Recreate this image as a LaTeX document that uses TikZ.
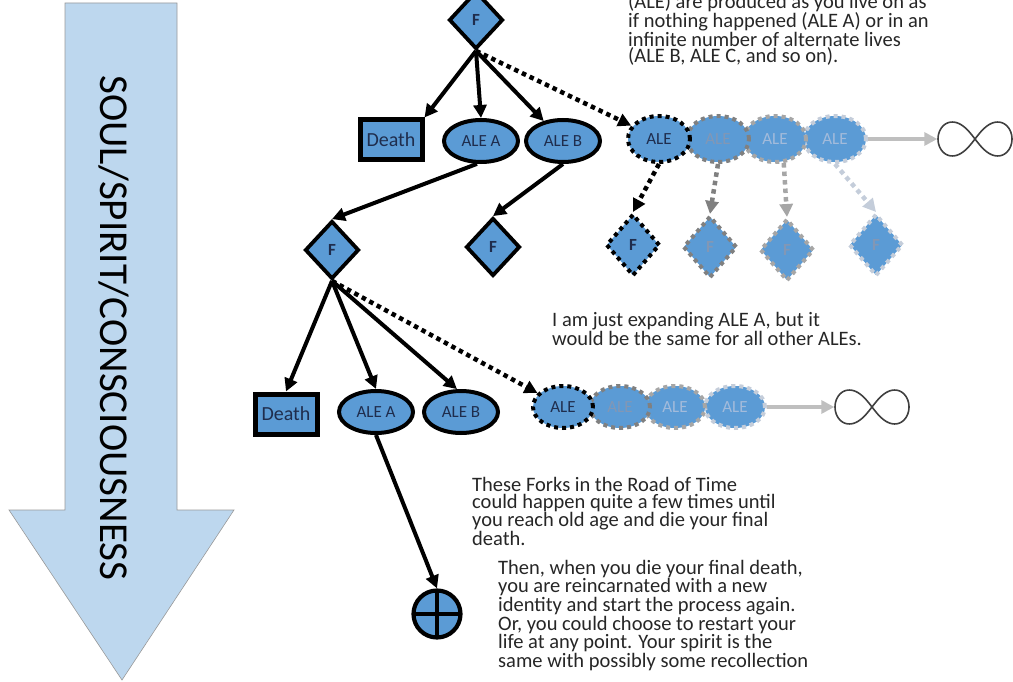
\documentclass[tikz,border=0pt]{standalone}
\usepackage{fontspec}
\setmainfont{Carlito}
\usetikzlibrary{shapes.geometric,arrows.meta}
\definecolor{nblue}{HTML}{5B9BD5}
\definecolor{lblue}{HTML}{BDD7EE}
\definecolor{navy}{HTML}{1F2D4D}
\definecolor{txt}{HTML}{262626}
\definecolor{ga}{HTML}{808080}
\definecolor{gb}{HTML}{A6A6A6}
\definecolor{gc}{HTML}{C4CDDA}
\definecolor{fta}{HTML}{8297B5}
\definecolor{ftb}{HTML}{A3BBDB}
\definecolor{inf}{HTML}{404040}
\definecolor{garrow}{HTML}{BFBFBF}
\begin{document}
\begin{tikzpicture}[x=1pt,y=-1pt,
  fork/.style={diamond, draw=black, line width=3.8pt, fill=nblue, minimum width=54pt, minimum height=58pt, inner sep=0pt, font=\bfseries\fontsize{17}{17}\selectfont, text=navy},
  dfork/.style={fork, dash pattern=on 4pt off 4pt, line width=4pt, minimum height=62pt},
  deathbox/.style={rectangle, draw=black, line width=5pt, fill=nblue, minimum width=62pt, minimum height=40pt, inner sep=0pt, font=\fontsize{20}{20}\selectfont, text=navy},
  ale/.style={ellipse, draw=black, line width=4pt, fill=nblue, minimum width=74pt, minimum height=42pt, inner sep=0pt, font=\fontsize{17}{17}\selectfont, text=navy},
  cale/.style={ellipse, draw=black, line width=4pt, dash pattern=on 4pt off 4pt, fill=nblue, minimum width=62pt, minimum height=46pt, inner sep=0pt, font=\fontsize{17}{17}\selectfont, text=navy},
  conn/.style={line width=4pt, -{Triangle[length=13pt,width=13pt]}},
  dconn/.style={conn, line width=4.5pt, dash pattern=on 4.5pt off 4pt},
  gconn/.style={line width=4pt, draw=garrow, -{Triangle[length=13pt,width=13pt]}},
  body/.style={align=left, inner sep=0pt, anchor=north west, font=\fontsize{20.5}{16.7}\selectfont, text=txt},
  infbox/.style={minimum width=75pt, minimum height=36pt, inner sep=0pt}
]
\useasboundingbox (0,0) rectangle (1013,682);

% big arrow
\draw[draw=gray!80, line width=0.6pt, fill=lblue] (65,3) -- (177,3) -- (177,510) -- (234,510) -- (122,680) -- (9,510) -- (65,510) -- cycle;
\node[rotate=-90, inner sep=0pt] (soul) at (114,328) {\resizebox{505pt}{!}{\fontsize{40}{40}\selectfont SOUL/SPIRIT/CONSCIOUSNESS}};

% top fork
\node[fork] (F1) at (476,20) {F};
\node[deathbox] (death1) at (391,140) {Death};
\node[ale] (aleA1) at (481,141) {ALE A};
\node[ale] (aleB1) at (563,141) {ALE B};

% top chain
\node[cale, draw=gc, text=ftb] (c4) at (835,139) {ALE};
\node[cale, draw=gb, text=ftb] (c3) at (775,139) {ALE};
\node[cale, draw=ga, text=fta] (c2) at (718,139) {ALE};
\node[cale] (c1) at (659,139) {ALE};
\node[infbox] (inf1) at (975,139) {};
\draw[line width=1.6pt, inf] plot[variable=\t, domain=0:360, samples=121, smooth] ({975+37*cos(\t)/(1+sin(\t)*sin(\t))}, {139+48*sin(\t)*cos(\t)/(1+sin(\t)*sin(\t))});

\node[dfork] (fA) at (633,245) {F};
\node[dfork, draw=ga, text=fta] (fB) at (710,247) {F};
\node[dfork, draw=gb, text=fta] (fC) at (787,250) {F};
\node[dfork, draw=gc, text=fta] (fD) at (876,245) {F};

% second level
\node[fork] (F2) at (332,250) {F};
\node[fork] (F3) at (493,247) {F};
\node[deathbox] (death2) at (286,414) {Death};
\node[ale] (aleA2) at (376,412) {ALE A};
\node[ale] (aleB2) at (461,412) {ALE B};

% bottom chain
\node[cale, draw=gc, text=ftb, minimum width=60pt, minimum height=42pt] (d4) at (735,407) {ALE};
\node[cale, draw=gb, text=ftb, minimum width=60pt, minimum height=42pt] (d3) at (675,407) {ALE};
\node[cale, draw=ga, text=fta, minimum width=60pt, minimum height=42pt] (d2) at (620,407) {ALE};
\node[cale, minimum width=60pt, minimum height=42pt] (d1) at (563,407) {ALE};
\node[infbox] (inf2) at (872,407) {};
\draw[line width=1.6pt, inf] plot[variable=\t, domain=0:360, samples=121, smooth] ({872+37*cos(\t)/(1+sin(\t)*sin(\t))}, {407+48*sin(\t)*cos(\t)/(1+sin(\t)*sin(\t))});

% reincarnation
\node[circle, draw=black, line width=4.2pt, fill=nblue, minimum size=47pt, inner sep=0pt,
  path picture={\draw[line width=3.8pt] (path picture bounding box.north) -- (path picture bounding box.south) (path picture bounding box.west) -- (path picture bounding box.east);}] (cross) at (437,614) {};

% connectors
\draw[conn] (F1.south) -- (death1.north east);
\draw[conn] (F1.south) -- (aleA1.north);
\draw[conn] (F1.south) -- (aleB1);
\draw[dconn] (F1.south) -- (c1);
\draw[gconn] (c4.east) -- (inf1.west);
\draw[dconn] (c1.south) -- (fA.north);
\draw[dconn, draw=ga] (c2.south) -- (fB.north);
\draw[dconn, draw=gb] (c3.290) -- (fC.north);
\draw[dconn, draw=gc] (c4.south) -- (fD.north);
\draw[conn] (aleA1.260) -- (F2.north);
\draw[conn] (aleB1.south) -- (F3.north);
\draw[conn] (F2.south) -- (death2.north);
\draw[conn] (F2.south) -- (aleA2.north);
\draw[conn] (F2.south) -- (aleB2.100);
\draw[dconn] (F2.south) -- (d1);
\draw[gconn] (d4.east) -- (inf2.west);
\draw[conn] (aleA2.south) -- (cross.north);

% texts
\node[body] (t1) at (628,-7) {(ALE) are produced as you live on as\\if nothing happened (ALE A) or in an\\infinite number of alternate lives\\(ALE B, ALE C, and so on).};
\node[body] (t2) at (552,312) {I am just expanding ALE A, but it\\would be the same for all other ALEs.};
\node[body] (t3) at (472,477) {These Forks in the Road of Time\\could happen quite a few times until\\you reach old age and die your final\\death.};
\node[body] (t4) at (498,560) {Then, when you die your final death,\\you are reincarnated with a new\\identity and start the process again.\\Or, you could choose to restart your\\life at any point. Your spirit is the\\same with possibly some recollection};
\end{tikzpicture}
\end{document}
